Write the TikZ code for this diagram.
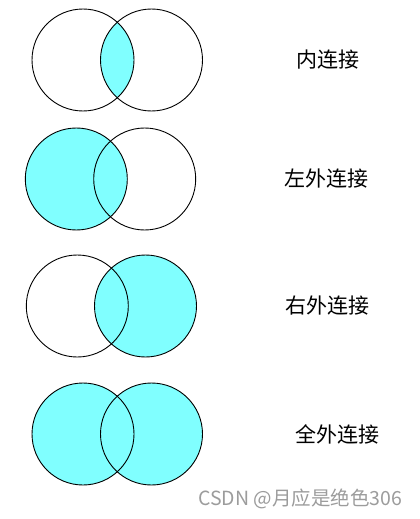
\documentclass[tikz,border=0pt]{standalone}
\usepackage{fontspec}
\newfontfamily\cjk{Noto Sans CJK SC}
\definecolor{joincyan}{HTML}{80FFFF}
\definecolor{markgrey}{HTML}{9C9C9C}

\begin{document}
\begin{tikzpicture}[x=1pt, y=-1pt,
    ring/.style={draw=black, line width=0.9pt},
    shade/.style={fill=joincyan},
    caption/.style={font=\cjk\fontsize{21}{21}\selectfont, text=black},
    watermark/.style={font=\cjk\fontsize{19.5}{19.5}\selectfont, text=markgrey},
]
\useasboundingbox[fill=white] (0,0) rectangle (420,519);

% ── Inner join ──
\begin{scope}
    \clip (83,60) circle (51);
    \fill[shade] (151.5,60) circle (51);
\end{scope}
\draw[ring] (83,60) circle (51);
\draw[ring] (151.5,60) circle (51);
\node[caption] (inner) at (328,60) {内连接};

% ── Left outer join ──
\fill[shade] (76.3,179) circle (51);
\draw[ring] (76.3,179) circle (51);
\draw[ring] (144.7,179) circle (51);
\node[caption] (leftouter) at (326,179) {左外连接};

% ── Right outer join ──
\fill[shade] (145.5,306) circle (51);
\draw[ring] (77.3,306) circle (51);
\draw[ring] (145.5,306) circle (51);
\node[caption] (rightouter) at (327.5,306) {右外连接};

% ── Full outer join ──
\fill[shade] (83,434) circle (51);
\fill[shade] (151.5,434) circle (51);
\draw[ring] (83,434) circle (51);
\draw[ring] (151.5,434) circle (51);
\node[caption] (fullouter) at (337.5,434) {全外连接};

% ── Watermark ──
\node[watermark] (credit) at (300.3,499) {CSDN @月应是绝色306};

\end{tikzpicture}
\end{document}
